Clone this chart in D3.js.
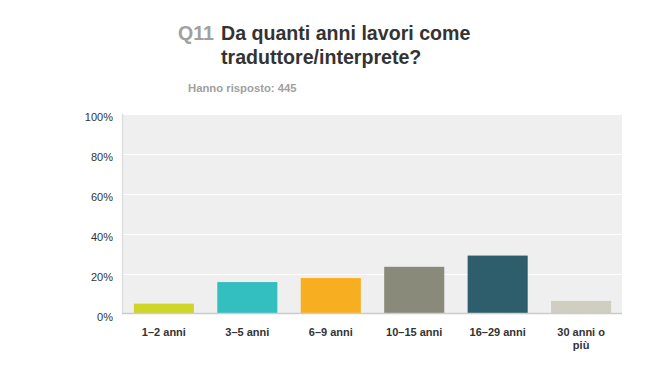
<!DOCTYPE html>
<html><head><meta charset="utf-8">
<script src="https://cdn.jsdelivr.net/npm/d3@7"></script>
<style>body{margin:0;background:#fff;} svg{display:block;font-family:"Liberation Sans",Arial,sans-serif;}</style>
</head><body><svg id="c" width="650" height="384"></svg>
<script>
const categories = ["1–2 anni","3–5 anni","6–9 anni","10–15 anni","16–29 anni","30 anni o più"];
const values = [5.17, 15.96, 17.98, 23.6, 29.21, 6.52];
const colors = ["#D0D52A","#33BEC0","#F7AF21","#8A8A7A","#2E5E6C","#CFCEC0"];
const yTicks = [0,20,40,60,80,100];
const qLabel = "Q11";
const titleLines = ["Da quanti anni lavori come","traduttore/interprete?"];
const subtitle = "Hanno risposto: 445";

const svg = d3.select("#c");
const m = {left:123, right:622, top:114, bottom:314};
const x = d3.scaleBand().domain(categories).range([m.left, m.right]).paddingInner(0.28).paddingOuter(0.13);
const y = d3.scaleLinear().domain([0,100]).range([m.bottom, m.top]);

svg.append("rect").attr("x", m.left).attr("y", m.top).attr("width", m.right-m.left).attr("height", m.bottom-m.top).attr("fill","#EFEFEF");
svg.append("g").selectAll("line").data(yTicks.filter(d=>d>0)).join("line")
  .attr("x1", m.left).attr("x2", m.right).attr("y1", d=>Math.round(y(d))+0.5).attr("y2", d=>Math.round(y(d))+0.5)
  .attr("stroke","#fff").attr("stroke-width",1);

svg.append("g").selectAll("rect").data(values).join("rect")
  .attr("x",(d,i)=>x(categories[i])).attr("width",x.bandwidth())
  .attr("y",d=>y(d)).attr("height",d=>y(0)-1-y(d))
  .attr("fill",(d,i)=>colors[i]);

// axes lines
svg.append("line").attr("x1",m.left-0.5).attr("x2",m.left-0.5).attr("y1",m.top).attr("y2",m.bottom).attr("stroke","#DDDDDD").attr("stroke-width",1.5);
svg.append("line").attr("x1",m.left-1).attr("x2",m.right).attr("y1",m.bottom-0.5).attr("y2",m.bottom-0.5).attr("stroke","#CCCCCC").attr("stroke-width",1.5);

// y axis labels
const yAxis = d3.axisLeft(y).tickValues(yTicks).tickFormat(d=>d+"%").tickSize(0).tickPadding(10);
const ya = svg.append("g").attr("transform",`translate(${m.left},0)`).call(yAxis);
ya.select(".domain").remove();
ya.selectAll("text").attr("font-size",11).attr("fill","#333").attr("font-family","Liberation Sans, Arial, sans-serif").attr("dy","0.32em");
ya.selectAll(".tick").attr("transform",d=>`translate(0,${y(d)+3.5})`);

// x labels
const xAxis = d3.axisBottom(x).tickSize(0).tickPadding(0).tickFormat("");
const xa = svg.append("g").attr("transform",`translate(0,${m.bottom})`).call(xAxis);
xa.select(".domain").remove();
xa.selectAll(".tick").each(function(d){
  const g = d3.select(this);
  const words = d==="30 anni o più" ? ["30 anni o","più"] : [d];
  words.forEach((w,k)=>{
    g.append("text").attr("y",22+k*13).attr("text-anchor","middle").attr("font-size",11).attr("font-weight","bold")
     .attr("fill","#333").attr("font-family","Liberation Sans, Arial, sans-serif").text(w);
  });
});

// title
svg.append("text").attr("x",178).attr("y",40).attr("font-size",19.6).attr("font-weight","bold").attr("fill","#A0A0A0").text(qLabel);
titleLines.forEach((t,i)=>{
  svg.append("text").attr("x",221).attr("y",40+24*i).attr("font-size",19.6).attr("font-weight","bold").attr("fill","#333").text(t);
});
svg.append("text").attr("x",188).attr("y",92).attr("font-size",11.3).attr("font-weight","bold").attr("fill","#A0A0A0").text(subtitle);
</script></body></html>
